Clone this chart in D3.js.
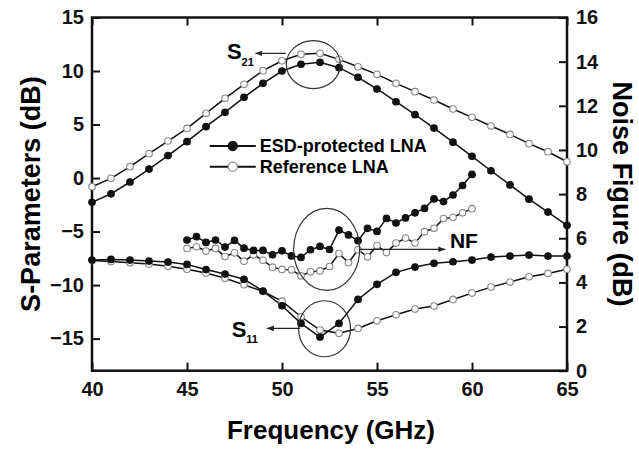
<!DOCTYPE html>
<html>
<head>
<meta charset="utf-8">
<script src="https://cdn.jsdelivr.net/npm/d3@7"></script>
<style>
  body { margin: 0; background: #fff; }
  text { font-family: "Liberation Sans", Arial, Helvetica, sans-serif; font-weight: bold; }
</style>
</head>
<body>
<div id="chart"></div>
<script>
// frequency points (GHz)
const freqS = [40,41,42,43,44,45,46,47,48,49,50,51,52,53,54,55,56,57,58,59,60,61,62,63,64,65]
const freqNF = [45,45.5,46,46.5,47,47.5,48,48.5,49,49.5,50,50.5,51,51.5,52,52.5,53,53.5,54,54.5,55,55.5,56,56.5,57,57.5,58,58.5,59,59.5,60]

// S-parameters (dB)
const s21Esd = [-2.27,-1.47,-0.37,0.84,2.1,3.4,4.8,6.14,7.54,8.85,10.0,10.63,10.81,10.31,9.41,8.32,7.13,5.92,4.67,3.35,2.03,0.68,-0.64,-1.97,-3.18,-4.42]
const s21Ref = [-0.81,-0.03,1.06,2.28,3.46,4.64,6.05,7.45,8.76,10.03,10.96,11.56,11.65,11.09,10.4,9.69,8.85,8.07,7.29,6.45,5.67,4.86,4.08,3.21,2.46,1.52]
const s11Esd = [-7.66,-7.6,-7.66,-7.76,-7.85,-8.07,-8.55,-8.97,-9.46,-10.56,-11.93,-13.58,-14.86,-13.58,-11.34,-9.93,-8.81,-8.32,-7.97,-7.82,-7.66,-7.38,-7.29,-7.2,-7.29,-7.29]
const s11Ref = [-7.7,-7.8,-7.92,-8.04,-8.25,-8.52,-8.88,-9.37,-9.97,-10.6,-11.5,-12.96,-14.2,-14.51,-14.05,-13.34,-12.78,-12.24,-11.96,-11.34,-10.75,-10.19,-9.72,-9.22,-8.91,-8.53]

// noise figure (dB)
const nfEsd = [5.92,6.07,5.81,5.92,5.6,5.9,5.55,5.45,5.45,5.25,5.43,5.2,5.13,5.48,5.63,5.49,6.37,6.15,5.89,6.45,6.31,6.9,6.69,6.92,7.15,7.35,7.78,7.66,7.96,8.39,8.89]
const nfRef = [5.54,5.61,5.42,5.54,5.17,5.34,4.96,5.25,5.0,4.69,4.59,4.57,4.3,4.48,4.52,4.72,5.31,4.89,5.48,5.16,5.67,5.35,5.78,6.01,5.78,6.3,6.45,6.89,6.95,7.15,7.34]

const xTicks = [40,45,50,55,60,65]
const yLeftTicks = [-15,-10,-5,0,5,10,15]
const yRightTicks = [0,2,4,6,8,10,12,14,16]
const legendLabels = ['ESD-protected LNA','Reference LNA']

function draw () {
    const dimensions = {
        width: 639,
        height: 450,
        margin: { left: 92, right: 72, top: 17.5, bottom: 79.3 }
    }
    dimensions.ctrWidth = dimensions.width - dimensions.margin.left - dimensions.margin.right
    dimensions.ctrHeight = dimensions.height - dimensions.margin.top - dimensions.margin.bottom

    const svg = d3.select('#chart')
        .append('svg')
        .attr('width', dimensions.width)
        .attr('height', dimensions.height)

    svg.append('defs').append('marker')
        .attr('id', 'arrow')
        .attr('viewBox', '0 0 10 10')
        .attr('refX', 10).attr('refY', 5)
        .attr('markerWidth', 7).attr('markerHeight', 7)
        .attr('markerUnits', 'userSpaceOnUse')
        .attr('orient', 'auto')
        .append('path')
        .attr('d', 'M0,1 L10,5 L0,9 z')
        .attr('fill', '#222')

    const ctr = svg.append('g')
        .attr('transform', `translate(${dimensions.margin.left},${dimensions.margin.top})`)

    // scales
    const xScale = d3.scaleLinear().domain([40, 65]).range([0, dimensions.ctrWidth])
    const yScale = d3.scaleLinear().domain([-18, 15]).range([dimensions.ctrHeight, 0])
    const nfScale = d3.scaleLinear().domain([0, 16]).range([dimensions.ctrHeight, 0])

    // axes, ticks pointing inward
    const tickFont = '20px'
    const xAxis = d3.axisBottom(xScale).tickValues(xTicks).tickSize(-8).tickPadding(10)
    const xAxisTop = d3.axisTop(xScale).tickValues(xTicks).tickSize(-8).tickFormat('')
    const yAxis = d3.axisLeft(yScale).tickValues(yLeftTicks).tickSize(-8).tickPadding(8)
    const nfAxis = d3.axisRight(nfScale).tickValues(yRightTicks).tickSize(-8).tickPadding(9)

    const axes = [
        ctr.append('g').attr('transform', `translate(0,${dimensions.ctrHeight})`).call(xAxis),
        ctr.append('g').call(xAxisTop),
        ctr.append('g').call(yAxis),
        ctr.append('g').attr('transform', `translate(${dimensions.ctrWidth},0)`).call(nfAxis)
    ]
    axes.forEach(a => {
        a.select('.domain').remove()
        a.selectAll('line').attr('stroke', '#111').attr('stroke-width', 2)
        a.selectAll('text').style('font-size', tickFont).attr('fill', '#111')
    })
    axes[0].selectAll('text').attr('dy', '0.75em')

    ctr.append('rect')
        .attr('width', dimensions.ctrWidth)
        .attr('height', dimensions.ctrHeight)
        .attr('fill', 'none')
        .attr('stroke', '#111')
        .attr('stroke-width', 2.5)

    // series
    const series = [
        { x: freqS, y: s21Ref, scale: yScale, filled: false },
        { x: freqS, y: s21Esd, scale: yScale, filled: true },
        { x: freqS, y: s11Ref, scale: yScale, filled: false },
        { x: freqS, y: s11Esd, scale: yScale, filled: true },
        { x: freqNF, y: nfRef, scale: nfScale, filled: false },
        { x: freqNF, y: nfEsd, scale: nfScale, filled: true }
    ]

    series.forEach(s => {
        const pts = s.x.map((f, i) => [f, s.y[i]])
        const line = d3.line()
            .x(d => xScale(d[0]))
            .y(d => s.scale(d[1]))
        ctr.append('path')
            .datum(pts)
            .attr('d', line)
            .attr('fill', 'none')
            .attr('stroke', '#111')
            .attr('stroke-width', 1.5)
    })
    series.forEach(s => {
        const pts = s.x.map((f, i) => [f, s.y[i]])
        ctr.append('g').selectAll('circle')
            .data(pts)
            .join('circle')
            .attr('cx', d => xScale(d[0]))
            .attr('cy', d => s.scale(d[1]))
            .attr('r', 3.3)
            .attr('fill', s.filled ? '#111' : '#fff')
            .attr('stroke', s.filled ? '#111' : '#888')
            .attr('stroke-width', 1.1)
    })

    // annotation ellipses
    const ellipses = [
        { f: 51.65, v: 10.6, rx: 27, ry: 24, sc: yScale },
        { f: 52.35, v: 5.5, rx: 33, ry: 41, sc: nfScale },
        { f: 52.24, v: -14.08, rx: 26, ry: 28, sc: yScale }
    ]
    ctr.append('g').selectAll('ellipse')
        .data(ellipses)
        .join('ellipse')
        .attr('cx', d => xScale(d.f))
        .attr('cy', d => d.sc(d.v))
        .attr('rx', d => d.rx)
        .attr('ry', d => d.ry)
        .attr('fill', 'none')
        .attr('stroke', '#333')
        .attr('stroke-width', 1.2)

    // arrows
    const arrows = [
        { f0: 50.2, f1: 48.6, v: 11.65, sc: yScale },
        { f0: 54.1, f1: 58.6, v: 5.5, sc: nfScale },
        { f0: 50.95, f1: 49.2, v: -14.05, sc: yScale }
    ]
    ctr.append('g').selectAll('line')
        .data(arrows)
        .join('line')
        .attr('x1', d => xScale(d.f0))
        .attr('x2', d => xScale(d.f1))
        .attr('y1', d => d.sc(d.v))
        .attr('y2', d => d.sc(d.v))
        .attr('stroke', '#222')
        .attr('stroke-width', 1.2)
        .attr('marker-end', 'url(#arrow)')

    // labels S21, S11, NF
    const s21 = ctr.append('text')
        .attr('x', xScale(47.1)).attr('y', yScale(11.1))
        .style('font-size', '22px')
    s21.append('tspan').text('S')
    s21.append('tspan').attr('dy', 7).style('font-size', '11px').text('21')

    const s11 = ctr.append('text')
        .attr('x', xScale(47.35)).attr('y', yScale(-14.86))
        .style('font-size', '22px')
    s11.append('tspan').text('S')
    s11.append('tspan').attr('dy', 6).style('font-size', '11px').text('11')

    ctr.append('text')
        .attr('x', xScale(58.84)).attr('y', nfScale(5.55))
        .style('font-size', '21px')
        .text('NF')

    // legend
    const legend = ctr.append('g')
        .attr('transform', `translate(${xScale(46.2)},${yScale(3.0)})`)
    legendLabels.forEach((lab, i) => {
        const row = legend.append('g').attr('transform', `translate(0,${i * 20.7})`)
        row.append('line').attr('x1', 0).attr('x2', 46).attr('stroke', '#111').attr('stroke-width', 2)
        row.append('circle').attr('cx', 23).attr('r', 4.6)
            .attr('fill', i === 0 ? '#111' : '#fff')
            .attr('stroke', i === 0 ? '#111' : '#888')
            .attr('stroke-width', 1.2)
        row.append('text').attr('x', 50).attr('dy', '0.36em')
            .style('font-size', '18px')
            .text(lab)
    })

    // axis titles
    svg.append('text')
        .attr('x', 331)
        .attr('y', 439)
        .attr('text-anchor', 'middle')
        .style('font-size', '26px')
        .text('Frequency (GHz)')

    svg.append('text')
        .attr('transform', `translate(40,${dimensions.margin.top + dimensions.ctrHeight / 2}) rotate(-90)`)
        .attr('text-anchor', 'middle')
        .style('font-size', '27px')
        .text('S-Parameters (dB)')

    svg.append('text')
        .attr('transform', `translate(613,${dimensions.margin.top + dimensions.ctrHeight / 2}) rotate(90)`)
        .attr('text-anchor', 'middle')
        .style('font-size', '27px')
        .text('Noise Figure (dB)')
}

draw()
</script>
</body>
</html>
